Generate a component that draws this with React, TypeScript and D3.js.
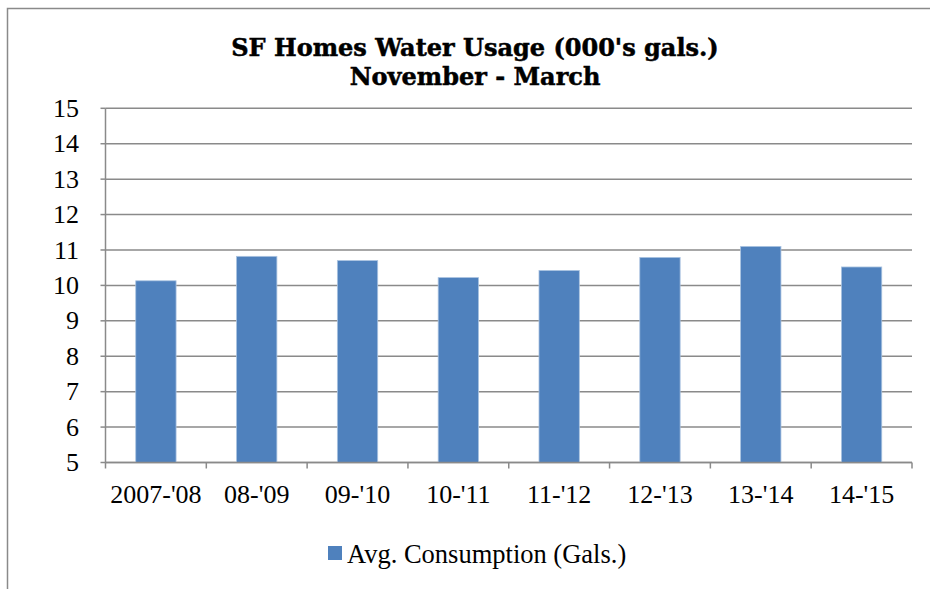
import React from 'react';
import * as d3 from 'd3';

const seasons = ["2007-'08", "08-'09", "09-'10", "10-'11", "11-'12", "12-'13", "13-'14", "14-'15"];
const avgConsumption = [10.13, 10.82, 10.7, 10.22, 10.42, 10.79, 11.1, 10.52];
const yTicks = [5, 6, 7, 8, 9, 10, 11, 12, 13, 14, 15];
const titleLines = ["SF Homes Water Usage (000's gals.)", 'November - March'];
const legendLabel = 'Avg. Consumption (Gals.)';

const W = 930;
const H = 589;
const left = 105.5;
const right = 912;
const top = 108.3;
const bottom = 462.5;

const App = () => {
  const x = d3.scaleBand<string>()
    .domain(seasons)
    .range([left, right])
    .paddingInner(0.6)
    .paddingOuter(0.3);

  const y = d3.scaleLinear().domain([5, 15]).range([bottom, top]);

  const step = x.step();
  const boundaries = d3.range(seasons.length + 1).map(i => left + i * step);

  const serif = '"Liberation Serif", "Times New Roman", serif';
  const grey = '#8a8a8a';

  return (
    <svg width={W} height={H} style={{ position: 'absolute', left: 0, top: 0, background: '#fff' }}>
      {/* outer frame (cropped on right and bottom) */}
      <path d={`M7.5,${H} V8.5 H${W}`} fill="none" stroke={grey} strokeWidth={1.5} />

      {/* title */}
      <g fontFamily='"DejaVu Serif", serif' fontWeight="bold" fontSize={24} textAnchor="middle"
         fill="#000" stroke="#000" strokeWidth={0.5}>
        <text x={475} y={56}>{titleLines[0]}</text>
        <text x={475} y={84.5}>{titleLines[1]}</text>
      </g>

      {/* gridlines */}
      {yTicks.map(t => (
        <line key={t} x1={left} x2={right} y1={y(t)} y2={y(t)} stroke={grey} strokeWidth={1.5} />
      ))}

      {/* bars */}
      {avgConsumption.map((v, i) => (
        <rect
          key={seasons[i]}
          x={x(seasons[i])}
          y={y(v)}
          width={x.bandwidth()}
          height={bottom - y(v)}
          fill="#4f81bd"
          stroke="#a9c2e0"
          strokeWidth={0.8}
        />
      ))}

      {/* y axis */}
      <line x1={left} x2={left} y1={top} y2={bottom} stroke={grey} strokeWidth={1.5} />
      {yTicks.map(t => (
        <line key={'yt' + t} x1={left - 5} x2={left} y1={y(t)} y2={y(t)} stroke={grey} strokeWidth={1.5} />
      ))}
      <g fontFamily={serif} fontSize={26} textAnchor="end" fill="#000">
        {yTicks.map(t => (
          <text key={'yl' + t} x={79} y={y(t)} dy="0.33em">{t}</text>
        ))}
      </g>

      {/* x axis */}
      <line x1={left} x2={right} y1={bottom} y2={bottom} stroke={grey} strokeWidth={1.5} />
      {boundaries.map((b, i) => (
        <line key={'xt' + i} x1={b} x2={b} y1={bottom} y2={bottom + 6} stroke={grey} strokeWidth={1.5} />
      ))}
      <g fontFamily={serif} fontSize={26} textAnchor="middle" fill="#000">
        {seasons.map(s => (
          <text key={'xl' + s} x={(x(s) as number) + x.bandwidth() / 2} y={503}>{s}</text>
        ))}
      </g>

      {/* legend */}
      <rect x={328} y={546} width={14} height={14} fill="#4f81bd" />
      <text x={347} y={563} fontFamily={serif} fontSize={26.5} fill="#000">{legendLabel}</text>
    </svg>
  );
};

export default App;
